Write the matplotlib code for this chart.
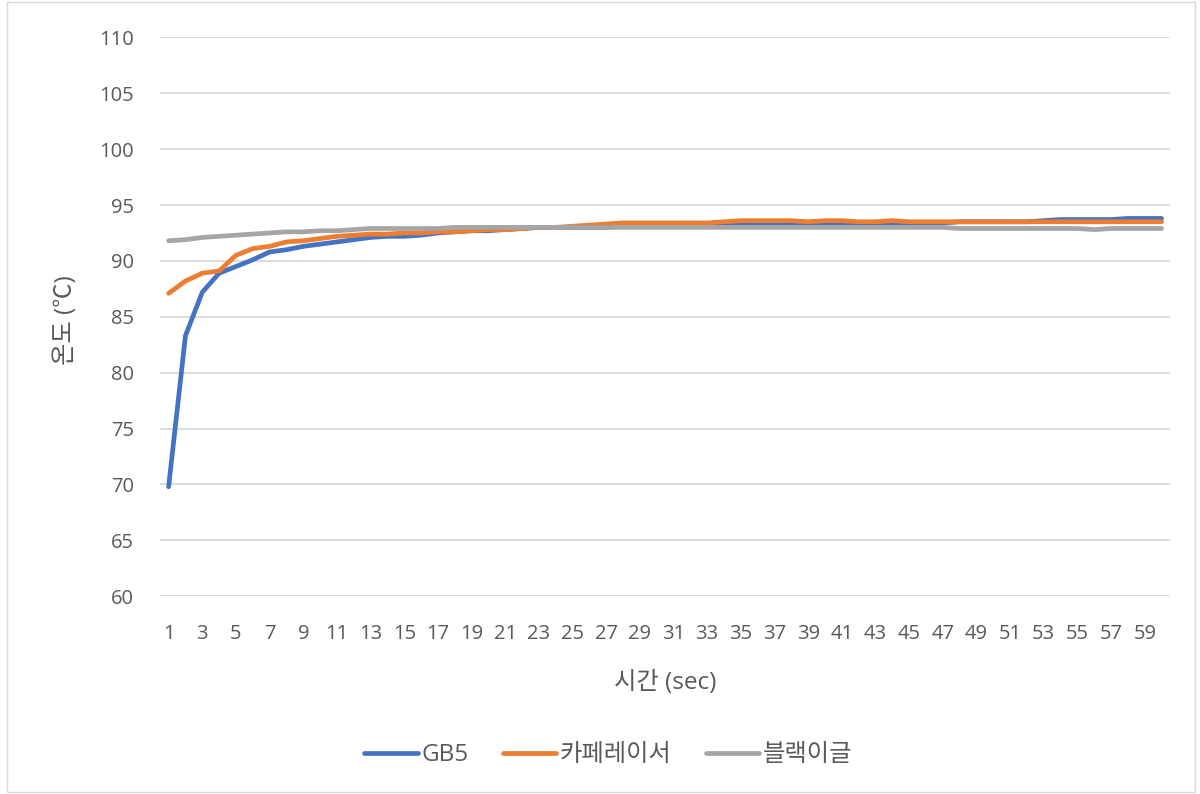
import matplotlib
matplotlib.use("Agg")
import matplotlib.pyplot as plt
from matplotlib.patches import Rectangle

plt.rcParams['font.family'] = ['Open Sans', 'Noto Sans CJK KR', 'DejaVu Sans']

time_sec = list(range(1, 61))
gb5 = [69.8, 83.3, 87.2, 88.9, 89.5, 90.1, 90.8, 91.0, 91.3, 91.5,
       91.7, 91.9, 92.1, 92.2, 92.2, 92.3, 92.5, 92.6, 92.7, 92.7,
       92.8, 92.9, 93.0, 93.0, 93.0, 93.0, 93.0, 93.1, 93.1, 93.1,
       93.1, 93.2, 93.2, 93.2, 93.2, 93.2, 93.3, 93.3, 93.3, 93.3,
       93.3, 93.3, 93.4, 93.4, 93.4, 93.4, 93.4, 93.5, 93.5, 93.5,
       93.5, 93.5, 93.6, 93.7, 93.7, 93.7, 93.7, 93.8, 93.8, 93.8]
capresso = [87.1, 88.2, 88.9, 89.1, 90.5, 91.1, 91.3, 91.7, 91.8, 92.0,
            92.2, 92.3, 92.4, 92.4, 92.5, 92.5, 92.6, 92.6, 92.7, 92.8,
            92.8, 92.9, 93.0, 93.0, 93.1, 93.2, 93.3, 93.4, 93.4, 93.4,
            93.4, 93.4, 93.4, 93.5, 93.6, 93.6, 93.6, 93.6, 93.5, 93.6,
            93.6, 93.5, 93.5, 93.6, 93.5, 93.5, 93.5, 93.5, 93.5, 93.5,
            93.5, 93.5, 93.5, 93.5, 93.5, 93.5, 93.5, 93.5, 93.5, 93.5]
blackeagle = [91.8, 91.9, 92.1, 92.2, 92.3, 92.4, 92.5, 92.6, 92.6, 92.7,
              92.7, 92.8, 92.9, 92.9, 92.9, 92.9, 92.9, 93.0, 93.0, 93.0,
              93.0, 93.0, 93.0, 93.0, 93.0, 93.0, 93.0, 93.0, 93.0, 93.0,
              93.0, 93.0, 93.0, 93.0, 93.0, 93.0, 93.0, 93.0, 93.0, 93.0,
              93.0, 93.0, 93.0, 93.0, 93.0, 93.0, 93.0, 92.9, 92.9, 92.9,
              92.9, 92.9, 92.9, 92.9, 92.9, 92.8, 92.9, 92.9, 92.9, 92.9]
series_names = ["GB5", "카페레이서", "블랙이글"]
series_colors = ["#4472C4", "#ED7D31", "#A5A5A5"]
y_ticks = list(range(60, 111, 5))
x_tick_labels = [str(v) for v in range(1, 60, 2)]

fig = plt.figure(figsize=(12, 7.94), dpi=100)
ax = fig.add_axes([0.1335, 0.249, 0.8415, 0.704])

for vals, name, col in zip([gb5, capresso, blackeagle], series_names, series_colors):
    ax.plot(time_sec, vals, color=col, lw=3.4, label=name, solid_capstyle='round', solid_joinstyle='round')

ax.set_xlim(0.5, 60.5)
ax.set_ylim(60, 110)
ax.set_yticks(y_ticks)
ax.set_xticks(list(range(1, 60, 2)))
ax.set_xticklabels(x_tick_labels)
ax.grid(axis='y', color='#D9D9D9', lw=1.3)
ax.set_axisbelow(True)
for s in ax.spines.values():
    s.set_visible(False)
ax.tick_params(length=0, labelsize=14.5, colors='#595959')
ax.tick_params(axis='x', pad=20)
ax.tick_params(axis='y', pad=19)

fig.text(665 / 1200, 1 - 683 / 794, "시간 (sec)", fontsize=17.5, color='#595959',
         ha='center', va='center')
fig.text(66 / 1200, 1 - 320 / 794, "온도 (℃)", fontsize=17.5, color='#595959',
         ha='center', va='center', rotation=90)

leg = fig.legend(loc='center', bbox_to_anchor=(0.507, 0.049), ncol=3, frameon=False,
                 fontsize=17.5, handlelength=2.2, handletextpad=0.15, columnspacing=1.4,
                 labelcolor='#595959')

fig.patches.append(Rectangle((0.006, 0.002), 0.99, 0.996, transform=fig.transFigure,
                             fill=False, edgecolor='#D9D9D9', lw=1))

fig.savefig("out.png", dpi=100)
